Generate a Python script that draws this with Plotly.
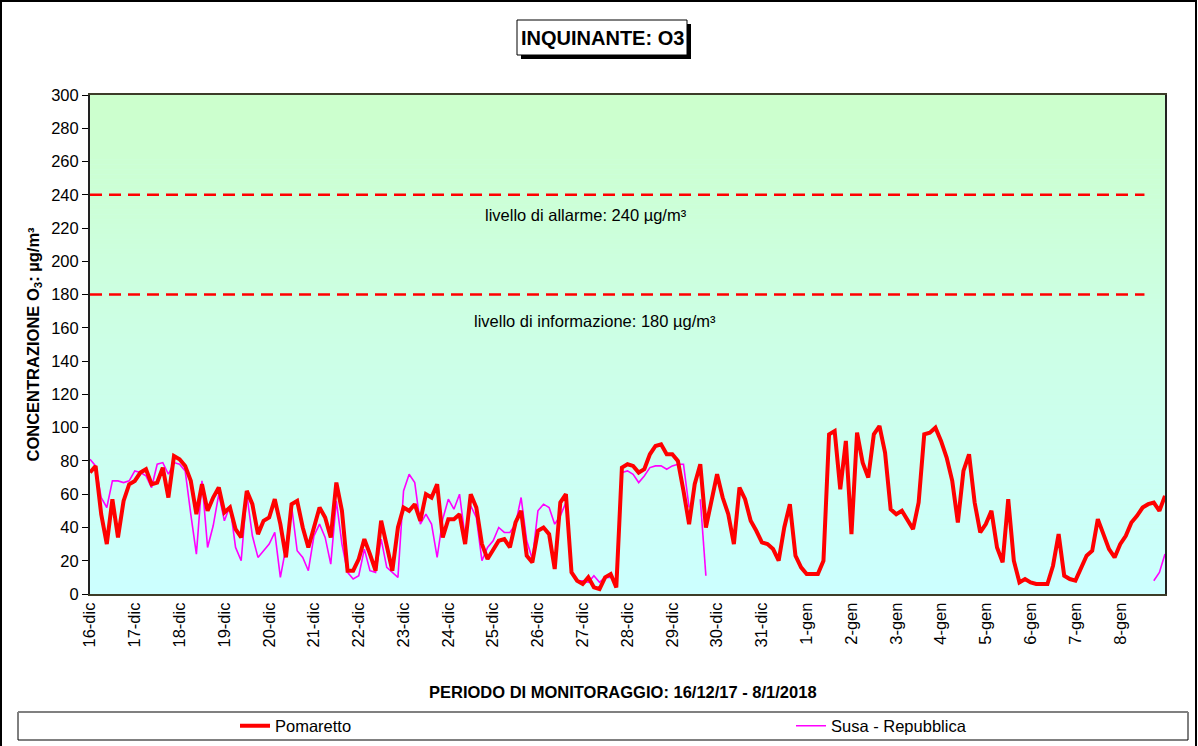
import plotly.graph_objects as go

# --- data: ozone concentration (µg/m³), one reading every 3 hours from 16/12/2017 00:00 ---
STEP_HOURS = 3
hours = list(range(0, 24 * 24 + 1, STEP_HOURS))

pomaretto = [
    73, 77, 48, 30, 57, 34, 56, 66, 68, 73, 75, 66, 67, 76, 58, 83, 81, 77, 68, 48, 66, 50, 58, 64, 49,
    52, 39, 34, 62, 54, 36, 44, 46,
    57, 42, 22, 54, 56, 40, 28, 40, 52, 46, 34, 67, 50, 14, 14, 21, 33, 24, 14, 44, 28, 14, 40, 52, 50,
    54, 44, 60, 58, 66, 34, 45,
    45, 48, 30, 60, 52, 30, 21, 26, 32, 33, 28, 43, 50, 23, 19, 38, 40, 36, 15, 55, 60, 13, 8, 6, 10,
    4, 3, 10, 12, 4, 76, 78,
    77, 73, 75, 84, 89, 90, 84, 84, 80, 62, 42, 66, 78, 40, 55, 72, 58, 48, 30, 64, 57, 44, 38, 31, 30,
    27, 20, 40, 54, 23, 16, 12,
    12, 12, 20, 96, 98, 63, 92, 36, 97, 79, 70, 96, 101, 85, 51, 48, 50, 45, 39, 55, 96, 97, 100, 92, 82,
    68, 43, 74, 84, 55, 37, 42,
    50, 28, 19, 57, 20, 7, 9, 7, 6, 6, 6, 17, 36, 11, 9, 8, 15, 23, 26, 45, 36, 27, 22, 30, 35,
    43, 47, 52, 54, 55, 50, 59,
]

susa_repubblica = [
    81, 77, 58, 52, 68, 68, 67, 68, 74, 73, 71, 64, 78, 79, 72, 79, 78, 74, 48, 24, 68, 28, 41, 60, 44,
    53, 28, 20, 60, 35, 22, 26, 30,
    37, 10, 28, 53, 26, 22, 14, 35, 42, 34, 18, 56, 30, 13, 9, 11, 27, 14, 13, 33, 16, 13, 10, 62, 72,
    67, 42, 48, 42, 22, 45, 57,
    51, 60, 34, 53, 46, 20, 28, 32, 40, 37, 37, 42, 58, 32, 21, 50, 54, 52, 42, 47, 55, 13, 8, 8, 7,
    11, 7, 10, 10, 7, 73, 74,
    72, 67, 71, 76, 77, 77, 75, 77, 78, 78, 52, None, 57, 11,
] + [None] * 79 + [8, 13, 24]

day_labels = [
    "16-dic", "17-dic", "18-dic", "19-dic", "20-dic", "21-dic", "22-dic", "23-dic",
    "24-dic", "25-dic", "26-dic", "27-dic", "28-dic", "29-dic", "30-dic", "31-dic",
    "1-gen", "2-gen", "3-gen", "4-gen", "5-gen", "6-gen", "7-gen", "8-gen",
]
day_ticks = [i * 24 for i in range(len(day_labels))]

alarm_level = 240
info_level = 180
threshold_span_hours = 565

# --- layout geometry (pixels) ---
W, H = 1198, 746
L, R, T, B = 90, 33, 95, 152
PW, PH = W - L - R, H - T - B
FONT = "Liberation Sans, Arial, sans-serif"
FS = 16.5


def px_x(px):
    return (px - L) / PW


def px_y(py):
    return (H - B - py) / PH


fig = go.Figure()

fig.add_trace(go.Scatter(
    x=[hours[0], threshold_span_hours], y=[alarm_level, alarm_level], mode="lines",
    line=dict(color="#ff0000", width=2.5, dash="12px,7px"), showlegend=False, hoverinfo="skip",
))
fig.add_trace(go.Scatter(
    x=[hours[0], threshold_span_hours], y=[info_level, info_level], mode="lines",
    line=dict(color="#ff0000", width=2.5, dash="12px,7px"), showlegend=False, hoverinfo="skip",
))
fig.add_trace(go.Scatter(
    x=hours, y=susa_repubblica, mode="lines", name="Susa - Repubblica",
    line=dict(color="#ff00ff", width=1.6), connectgaps=False, legend="legend2",
))
fig.add_trace(go.Scatter(
    x=hours, y=pomaretto, mode="lines", name="Pomaretto",
    line=dict(color="#ff0000", width=4), legend="legend",
))

shapes = []
# vertical gradient background: light green at the top, light cyan at the bottom
n_bands = 100
for i in range(n_bands):
    f = (i + 0.5) / n_bands
    b = round(255 - (255 - 204) * f)
    shapes.append(dict(
        type="rect", xref="paper", yref="y", x0=0, x1=1,
        y0=300 * i / n_bands, y1=300 * (i + 1) / n_bands,
        fillcolor=f"rgb(204,255,{b})", line=dict(width=0), layer="below",
    ))

# outer chart border
shapes.append(dict(type="rect", xref="paper", yref="paper",
                   x0=px_x(1), x1=px_x(1196), y0=px_y(790), y1=px_y(1),
                   line=dict(color="black", width=2), fillcolor="rgba(0,0,0,0)"))
# title box with drop shadow
shapes.append(dict(type="rect", xref="paper", yref="paper",
                   x0=px_x(521), x1=px_x(691), y0=px_y(59), y1=px_y(24),
                   line=dict(width=0), fillcolor="black"))
shapes.append(dict(type="rect", xref="paper", yref="paper",
                   x0=px_x(517), x1=px_x(687), y0=px_y(55), y1=px_y(20),
                   line=dict(color="black", width=1), fillcolor="white"))
# legend frame
shapes.append(dict(type="rect", xref="paper", yref="paper",
                   x0=px_x(18), x1=px_x(1188), y0=px_y(740), y1=px_y(712),
                   line=dict(color="black", width=1), fillcolor="white", layer="below"))
shapes.append(dict(type="line", xref="paper", yref="paper",
                   x0=px_x(18), x1=px_x(1188), y0=px_y(712), y1=px_y(712),
                   line=dict(color="#808080", width=2), layer="below"))

annotations = [
    dict(text="<b>INQUINANTE: O3</b>", xref="paper", yref="paper",
         x=px_x(602), y=px_y(38), xanchor="center", yanchor="middle", showarrow=False,
         font=dict(family=FONT, size=20, color="black")),
    dict(text="<b>CONCENTRAZIONE O<sub>3</sub>: µg/m³</b>", xref="paper", yref="paper",
         x=px_x(33), y=0.5, xanchor="center", yanchor="middle", textangle=-90, showarrow=False,
         font=dict(family=FONT, size=FS, color="black")),
    dict(text="<b>PERIODO DI MONITORAGGIO: 16/12/17 - 8/1/2018</b>", xref="paper", yref="paper",
         x=px_x(623), y=px_y(692), xanchor="center", yanchor="middle", showarrow=False,
         font=dict(family=FONT, size=FS, color="black")),
    dict(text="livello di allarme: 240 µg/m³", xref="paper", yref="y",
         x=px_x(586), y=alarm_level, yshift=-20, xanchor="center", yanchor="middle",
         showarrow=False, font=dict(family=FONT, size=FS, color="black")),
    dict(text="livello di informazione: 180 µg/m³", xref="paper", yref="y",
         x=px_x(595), y=info_level, yshift=-26, xanchor="center", yanchor="middle",
         showarrow=False, font=dict(family=FONT, size=FS, color="black")),
]

legend_common = dict(orientation="h", yanchor="middle", xanchor="left", y=px_y(726),
                     bgcolor="rgba(0,0,0,0)", borderwidth=0,
                     font=dict(family=FONT, size=FS, color="black"))

fig.update_layout(
    width=W, height=H,
    margin=dict(l=L, r=R, t=T, b=B, pad=0, autoexpand=False),
    paper_bgcolor="white", plot_bgcolor="rgb(204,255,230)",
    font=dict(family=FONT, size=FS, color="black"),
    shapes=shapes, annotations=annotations,
    showlegend=True,
    legend=dict(x=px_x(235), **legend_common),
    legend2=dict(x=px_x(791), **legend_common),
    xaxis=dict(range=[0, 576], tickvals=day_ticks, ticktext=day_labels, tickangle=-90,
               ticks="", showgrid=False, zeroline=False, showline=True, linecolor="#3c3c28",
               linewidth=2, mirror=True, tickfont=dict(family=FONT, size=FS, color="black")),
    yaxis=dict(range=[0, 300], tickvals=list(range(0, 301, 20)), ticks="outside", ticklen=6,
               tickcolor="black", showgrid=False, zeroline=False, showline=True, linecolor="#222222",
               linewidth=2, mirror=True, tickfont=dict(family=FONT, size=FS, color="black")),
)

fig.write_html("out.html")
